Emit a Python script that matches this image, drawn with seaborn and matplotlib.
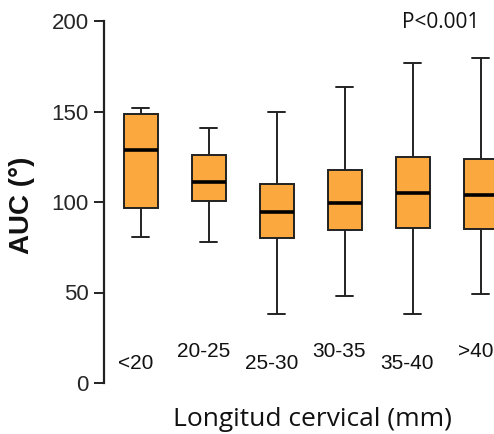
import matplotlib
matplotlib.use("Agg")
import matplotlib.pyplot as plt
import seaborn as sns
import pandas as pd

# Five-number summaries (whisker low, Q1, median, Q3, whisker high)
categories = ["<20", "20-25", "25-30", "30-35", "35-40", ">40"]
whisker_low = [80.7, 78.0, 38.0, 48.0, 38.0, 49.0]
q1 = [96.7, 100.5, 80.0, 84.5, 85.6, 85.0]
median = [128.7, 111.0, 94.5, 99.4, 105.0, 104.0]
q3 = [148.6, 126.0, 110.0, 117.7, 125.0, 124.0]
whisker_high = [152.0, 141.0, 150.0, 163.5, 177.0, 179.5]
yticks = [0, 50, 100, 150, 200]

rows = []
for i, c in enumerate(categories):
    for v in (whisker_low[i], q1[i], median[i], q3[i], whisker_high[i]):
        rows.append({"grupo": c, "AUC": v})
df = pd.DataFrame(rows)

sns.set_style("ticks")
plt.rcParams["font.family"] = ["Liberation Sans", "DejaVu Sans"]

fig = plt.figure(figsize=(4.94, 4.34), dpi=100)
ax = fig.add_axes([104 / 494, 51 / 434, 390 / 494, 362 / 434])

edge = "#222222"
sns.boxplot(
    data=df, x="grupo", y="AUC", order=categories, ax=ax,
    color="#FBA83F", saturation=1, width=0.5, whis=(0, 100),
    linecolor=edge, linewidth=1.4,
    medianprops={"color": "black", "linewidth": 2.6},
    capprops={"color": edge, "linewidth": 1.4},
    whiskerprops={"color": edge, "linewidth": 1.4},
    boxprops={"edgecolor": edge, "linewidth": 1.4},
    showfliers=False,
)

ax.set_xlim(-0.54, 5.195)
ax.set_ylim(0, 200)
ax.set_yticks(yticks)
ax.set_yticklabels([str(t) for t in yticks], fontsize=16)
ax.tick_params(axis="y", length=7, width=1.4, pad=4, color=edge)
ax.tick_params(axis="x", bottom=False, labelbottom=False)
ax.set_xlabel("")
ax.set_ylabel("")
for s in ("top", "right", "bottom"):
    ax.spines[s].set_visible(False)
ax.spines["left"].set_linewidth(1.6)
ax.spines["left"].set_color(edge)

# staggered category labels inside the plot
for i, c in enumerate(categories):
    yv = 10.5 if i % 2 == 0 else 17.5
    ax.text(i - 0.08, yv, c, ha="center", va="center", fontsize=15, color="#111111")

fig.text(441 / 494, 1 - 22 / 434, "P<0.001", ha="center", va="center",
         fontsize=15, family=["Open Sans", "DejaVu Sans"], color="#111111")
fig.text(312 / 494, 1 - 419 / 434, "Longitud cervical (mm)", ha="center", va="center",
         fontsize=19, family=["Open Sans", "DejaVu Sans"], color="#111111")
fig.text(22 / 494, 1 - 205 / 434, "AUC (°)", ha="center", va="center", rotation=90,
         fontsize=20, fontweight="bold", color="#111111")

fig.savefig("out.png", dpi=100)
